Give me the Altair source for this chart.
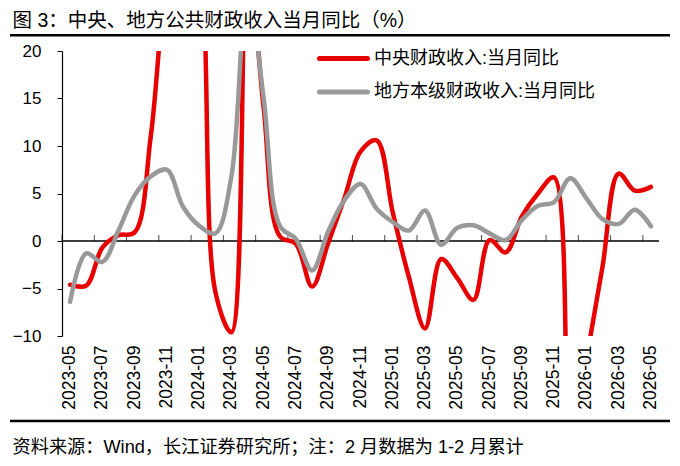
import altair as alt
import pandas as pd

# Categories: monthly from 2023-05 to 2026-05
months = [f"{2023 + (4 + k) // 12}-{(4 + k) % 12 + 1:02d}" for k in range(37)]

# 中央财政收入:当月同比 (%)
central = [-4.6, -4.7, -0.7, 0.6, 0.9, 11.0, 28.0, 35.0, 30.0, -5.3,
           -9.6, 30.0, 14.0, 0.5, -0.3, -4.8, -0.2, 4.5, 9.4, 10.6,
           3.0, -3.8, -9.2, -1.9, -3.9, -6.2, 0.1, -1.2, 2.6, 5.0,
           6.7, -23.0, -12.5, -2.7, 7.1, 5.3, 5.7]

# 地方本级财政收入:当月同比 (%)
local = [-6.4, -1.3, -2.2, 1.1, 4.8, 6.8, 7.5, 3.6, 1.6, 0.8,
         6.8, 27.0, 15.0, 1.6, 0.2, -3.1, 1.0, 4.3, 6.0, 3.4,
         2.0, 1.1, 3.2, -0.4, 1.4, 1.65, 0.8, 0.1, 2.2, 3.7,
         4.1, 6.6, 4.5, 2.3, 1.8, 3.3, 1.55]

series_names = ["中央财政收入:当月同比", "地方本级财政收入:当月同比"]
colors = ["#E60000", "#999999"]
y_ticks = [-10, -5, 0, 5, 10, 15, 20]
label_months = months[::2]

title_text = "图 3：中央、地方公共财政收入当月同比（%）"
source_text = "资料来源：Wind，长江证券研究所；注：2 月数据为 1-2 月累计"

FONT = "Liberation Sans, Noto Sans CJK SC"
LATIN = "Liberation Sans"

W, H = 597, 285

df = pd.DataFrame({"month": months, "central": central, "local": local})
tick_df = pd.DataFrame({"month": label_months, "zero": [0] * len(label_months)})
zero_df = pd.DataFrame({"zero": [0]})

x_scale = alt.Scale(type="band", paddingInner=0, paddingOuter=0, domain=months)
y_scale = alt.Scale(domain=[-10, 20], nice=False, zero=False)

# label every other month (all odd months)
x_axis = alt.Axis(orient="bottom", labelAngle=-90,
                  labelExpr="toNumber(slice(datum.value, 5, 7)) % 2 == 1 ? datum.label : ''",
                  ticks=False, domain=False, labelPadding=9,
                  labelFontSize=17.5, labelColor="black", labelFont=LATIN,
                  labelOverlap=False, labelBound=False, grid=False, title=None)
y_axis = alt.Axis(values=y_ticks, grid=False, tickSize=5, tickColor="black",
                  tickWidth=1, domainColor="black", domainWidth=1.2,
                  labelFontSize=17, labelPadding=16, labelColor="black",
                  labelFlush=False, labelFont=LATIN, title=None)


def X(bp):
    return alt.X("month:O", sort=None, bandPosition=bp, scale=x_scale, axis=x_axis)


def Y(field):
    return alt.Y(f"{field}:Q", scale=y_scale, axis=y_axis)


line_style = dict(strokeWidth=4.5, interpolate="catmull-rom", clip=True,
                  strokeCap="round", strokeJoin="round")

red = alt.Chart(df).mark_line(color=colors[0], **line_style).encode(x=X(0.5), y=Y("central"))
gray = alt.Chart(df).mark_line(color=colors[1], **line_style).encode(x=X(0.5), y=Y("local"))

# zero line (category axis crossing at 0) and its tick marks at category boundaries
zero_line = alt.Chart(zero_df).mark_rule(color="black", strokeWidth=1.3).encode(y=Y("zero"))
zero_ticks = alt.Chart(tick_df).mark_tick(orient="vertical", thickness=1, size=6,
                                          yOffset=-3, color="black").encode(
    x=X(0), y=Y("zero"))

layers = [zero_line, zero_ticks, red, gray]

# legend (inside plot, top right)
for k, name in enumerate(series_names):
    ldf = pd.DataFrame({"s": [name]})
    yk = 7.5 + 33.5 * k
    layers.append(alt.Chart(ldf).mark_rule(color=colors[k], strokeWidth=5, strokeCap="round").encode(
        x=alt.value(257.5), x2=alt.value(305.5), y=alt.value(yk)))
    layers.append(alt.Chart(ldf).mark_text(align="left", baseline="middle", fontSize=18,
                                           font=FONT, color="black").encode(
        x=alt.value(312), y=alt.value(yk), text="s:N"))

# title, separators, source note
tdf = pd.DataFrame({"t": [title_text]})
sdf = pd.DataFrame({"t": [source_text]})
layers.append(alt.Chart(tdf).mark_text(align="left", baseline="middle", fontSize=19.5,
                                       font=FONT, color="black").encode(
    x=alt.value(-49.5), y=alt.value(-30.5), text="t:N"))
layers.append(alt.Chart(tdf).mark_rule(color="black", strokeWidth=2.5).encode(
    x=alt.value(-52), x2=alt.value(608), y=alt.value(-15.7)))
layers.append(alt.Chart(sdf).mark_rule(color="black", strokeWidth=2.5).encode(
    x=alt.value(-52), x2=alt.value(608), y=alt.value(370)))
layers.append(alt.Chart(sdf).mark_text(align="left", baseline="middle", fontSize=18.2,
                                       font=FONT, color="black").encode(
    x=alt.value(-49.5), y=alt.value(397), text="t:N"))

chart = alt.layer(*layers).properties(
    width=W, height=H,
    autosize=alt.AutoSizeParams(type="none"),
    padding={"left": 54, "top": 43, "right": 13, "bottom": 122},
).configure(font=FONT).configure_view(strokeWidth=0)

chart.save("out.html", embed_options={"renderer": "svg", "actions": False})
